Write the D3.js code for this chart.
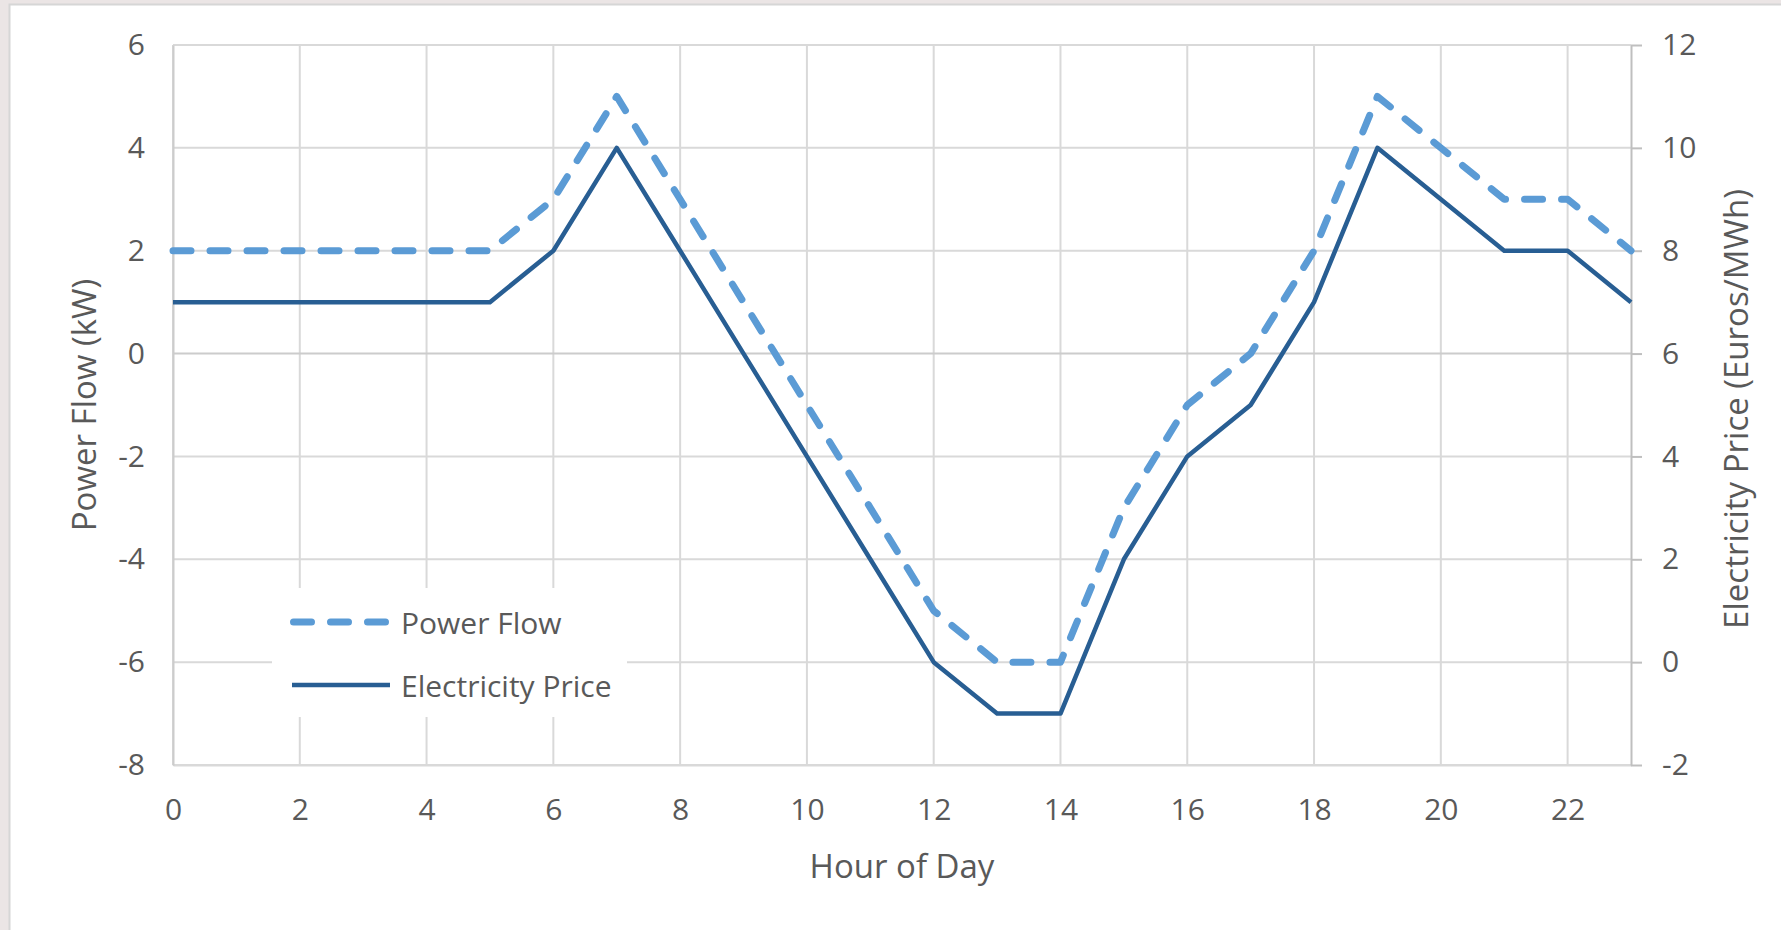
<!DOCTYPE html>
<html>
<head>
<meta charset="utf-8">
<script src="https://cdn.jsdelivr.net/npm/d3@7"></script>
<style>
  html, body { margin: 0; padding: 0; background: #ebe5e5; }
  svg { display: block; }
  text { font-family: "Open Sans", "Noto Sans", sans-serif; fill: #595959; }
</style>
</head>
<body>
<svg id="chart" width="1781" height="930"></svg>
<script>
// Hourly data
const hours = [0,1,2,3,4,5,6,7,8,9,10,11,12,13,14,15,16,17,18,19,20,21,22,23];
const powerFlow = [2,2,2,2,2,2,3,5,3,1,-1,-3,-5,-6,-6,-3,-1,0,2,5,4,3,3,2];
const electricityPrice = [7,7,7,7,7,7,8,10,8,6,4,2,0,-1,-1,2,4,5,7,10,9,8,8,7];

// Axis ticks
const xTicks = [0,2,4,6,8,10,12,14,16,18,20,22];
const leftTicks = [-8,-6,-4,-2,0,2,4,6];
const rightTicks = [-2,0,2,4,6,8,10,12];

const seriesNames = ["Power Flow", "Electricity Price"];

// Plain hyphen for negative numbers
const fmt = d => String(d);

const svg = d3.select("#chart");

// White chart panel
svg.append("rect")
  .attr("x", 9.5).attr("y", 4.5)
  .attr("width", 1800).attr("height", 940)
  .attr("fill", "#ffffff")
  .attr("stroke", "#d6d6d6").attr("stroke-width", 2);

const plot = { left: 173, right: 1631, top: 45, bottom: 765 };

const x = d3.scaleLinear().domain([0, 23]).range([plot.left, plot.right]);
const yL = d3.scaleLinear().domain([-8, 6]).range([plot.bottom, plot.top]);
const yR = d3.scaleLinear().domain([-2, 12]).range([plot.bottom, plot.top]);

// Gridlines
const grid = svg.append("g").attr("stroke", "#d9d9d9").attr("stroke-width", 2);
grid.selectAll("line.v").data(xTicks).join("line")
  .attr("x1", d => x(d)).attr("x2", d => x(d))
  .attr("y1", plot.top).attr("y2", plot.bottom);
grid.selectAll("line.h").data(leftTicks).join("line")
  .attr("x1", plot.left).attr("x2", plot.right)
  .attr("y1", d => yL(d)).attr("y2", d => yL(d))
  .attr("stroke", d => d === 0 ? "#cccccc" : "#d9d9d9");

// Bottom axis
const xAxis = d3.axisBottom(x).tickValues(xTicks).tickFormat(fmt).tickSize(0).tickPadding(34);
const gx = svg.append("g").attr("transform", `translate(0,${plot.bottom})`).call(xAxis);
gx.select(".domain").attr("stroke", "#d9d9d9").attr("stroke-width", 2);
gx.selectAll("text").style("font-size", "30px").attr("fill", "#595959");

// Left axis
const yAxisL = d3.axisLeft(yL).tickValues(leftTicks).tickFormat(fmt).tickSize(0).tickPadding(28);
const gl = svg.append("g").attr("transform", `translate(${plot.left},0)`).call(yAxisL);
gl.select(".domain").attr("stroke", "#cccccc").attr("stroke-width", 2);
gl.selectAll("text").style("font-size", "30px").attr("fill", "#595959");

// Right axis
const yAxisR = d3.axisRight(yR).tickValues(rightTicks).tickFormat(fmt).tickSize(11).tickSizeOuter(0).tickPadding(20);
const gr = svg.append("g").attr("transform", `translate(${plot.right},0)`).call(yAxisR);
gr.select(".domain").attr("stroke", "#bfbfbf").attr("stroke-width", 2);
gr.selectAll(".tick line").attr("stroke", "#bfbfbf").attr("stroke-width", 2);
gr.selectAll("text").style("font-size", "30px").attr("fill", "#595959");
svg.selectAll(".tick text").style("font-family", "'Open Sans', sans-serif");

// Axis titles
svg.append("text")
  .attr("x", (plot.left + plot.right) / 2).attr("y", 865)
  .attr("text-anchor", "middle").attr("dominant-baseline", "central")
  .style("font-size", "33px").text("Hour of Day");
svg.append("text")
  .attr("transform", `translate(83,${(plot.top + plot.bottom) / 2}) rotate(-90)`)
  .attr("text-anchor", "middle").attr("dominant-baseline", "central")
  .style("font-size", "33px").text("Power Flow (kW)");
svg.append("text")
  .attr("transform", `translate(1735,${(plot.top + plot.bottom) / 2 + 4}) rotate(-90)`)
  .attr("text-anchor", "middle").attr("dominant-baseline", "central")
  .style("font-size", "33px").text("Electricity Price (Euros/MWh)");

// Series lines
const lineL = d3.line().x((d, i) => x(hours[i])).y(d => yL(d));
const lineR = d3.line().x((d, i) => x(hours[i])).y(d => yR(d));

svg.append("path").datum(electricityPrice)
  .attr("d", lineR)
  .attr("fill", "none").attr("stroke", "#285e93").attr("stroke-width", 4.5)
  .attr("stroke-linejoin", "round");

svg.append("path").datum(powerFlow)
  .attr("d", lineL)
  .attr("fill", "none").attr("stroke", "#5b9bd5").attr("stroke-width", 7)
  .attr("stroke-dasharray", "18,19").attr("stroke-linecap", "round")
  .attr("stroke-linejoin", "round");

// Legend
const legend = svg.append("g");
legend.append("rect")
  .attr("x", 272).attr("y", 588).attr("width", 355).attr("height", 129)
  .attr("fill", "#ffffff");
const legendY = [622, 685];
legend.append("line")
  .attr("x1", 293.5).attr("x2", 386).attr("y1", legendY[0]).attr("y2", legendY[0])
  .attr("stroke", "#5b9bd5").attr("stroke-width", 7)
  .attr("stroke-dasharray", "18,19").attr("stroke-linecap", "round");
legend.append("line")
  .attr("x1", 292).attr("x2", 390).attr("y1", legendY[1]).attr("y2", legendY[1])
  .attr("stroke", "#285e93").attr("stroke-width", 4.5);
legend.selectAll("text").data(seriesNames).join("text")
  .attr("x", 401).attr("y", (d, i) => legendY[i])
  .attr("dominant-baseline", "central")
  .style("font-size", "30px").text(d => d);
</script>
</body>
</html>
